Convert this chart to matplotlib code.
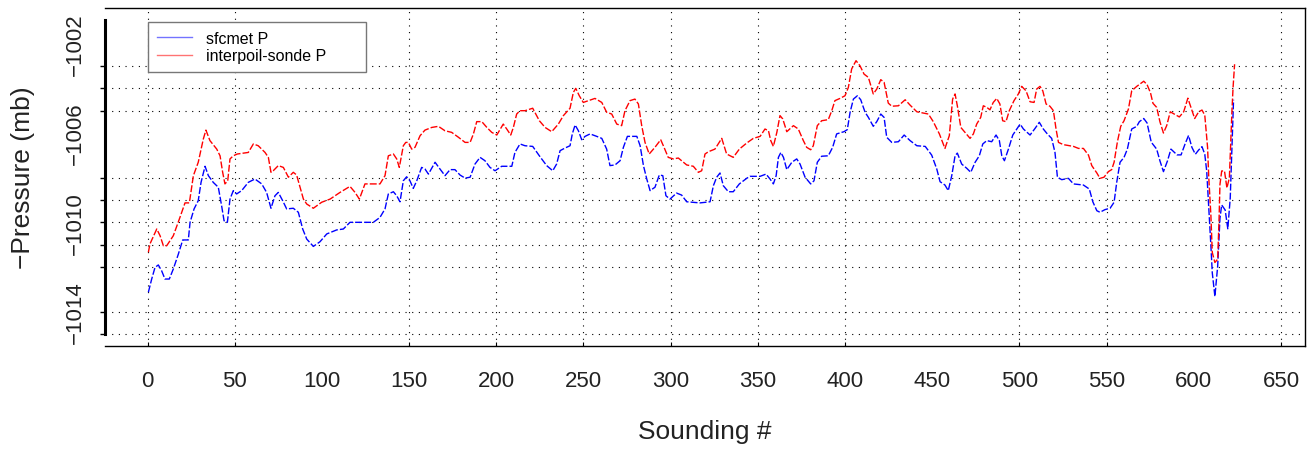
import matplotlib
matplotlib.use("Agg")
import matplotlib.pyplot as plt
from matplotlib.lines import Line2D

plt.rcParams['font.family'] = ['Liberation Sans', 'DejaVu Sans']

# sounding number / -pressure (mb)
sfc_x = [0.5, 2.4, 4.3, 6.2, 8.1, 10, 12.5, 14.8, 17.7, 20.2, 23.4, 24.4, 26.7, 29.1, 30.7, 33, 34.9, 37.7,
         40.6, 42.5, 43.9, 45.8, 47.3, 49.2, 51.1, 54, 57.8, 61.6, 65.5, 68.3, 70.8, 73.1, 75, 77.5, 79.8,
         83.6, 86.5, 89, 91.3, 95.1, 98.9, 102.8, 108.5, 112.3, 116.1, 129.5, 133.3, 136.2, 138.1, 141,
         142.9, 144.8, 146.7, 148.6, 150.5, 152.4, 154.4, 157.2, 159.1, 161.1, 164.9, 167.7, 170.6, 173.5,
         176.3, 179.2, 182.1, 185, 187.8, 190.7, 193.5, 196.4, 199.3, 203.1, 208.9, 210.7, 213.6, 216.5,
         220.9, 224.7, 228.9, 232.4, 234.6, 236.6, 239.5, 242.3, 243.6, 245.2, 247.1, 249, 250.9, 253.8,
         257.6, 260.5, 263.3, 265.2, 268.1, 271, 272.9, 275.2, 280.6, 282.5, 284.4, 286.3, 288.2, 291,
         293.5, 295.5, 297.3, 299.6, 303.4, 306.3, 309.2, 316.8, 322.6, 324.5, 326.4, 328.3, 330.2, 333.1,
         335.9, 339.4, 343.6, 345.5, 351.3, 354.7, 357, 358.9, 360.5, 361.8, 363.2, 364.7, 366.6, 369.5,
         372.3, 374.2, 377.1, 380.3, 382.2, 384.1, 386.6, 390.4, 392.9, 395.2, 399.4, 401.3, 402.9, 404.8,
         407.1, 409, 411.5, 413.4, 416.2, 418.2, 420.5, 422.4, 423.9, 426.8, 430.6, 433.9, 437.3, 441.2,
         446, 449.7, 452.6, 454.5, 457.3, 459.2, 461.2, 463.1, 464.4, 466.9, 469.8, 472.1, 474.6, 477,
         479, 481.3, 484.1, 486.6, 488.5, 489.9, 491.4, 493.7, 496.2, 498.5, 500.4, 502.3, 506.1, 509,
         511.4, 513.7, 516, 518.5, 520.4, 521.8, 524.3, 528.1, 531, 536.7, 540.1, 542.1, 544.4, 546.2,
         549.1, 552, 554.3, 555.8, 557.7, 560, 561.9, 564.4, 567.3, 568.8, 571.3, 573.2, 575.6, 578.7,
         580.6, 582.6, 584.9, 586.9, 590.4, 592.7, 595, 597, 598.9, 600.9, 602.8, 604.7, 606.3, 607.4,
         608.6, 609.8, 610.6, 612.1, 613.7, 615, 616, 618, 619.5, 620.9, 621.9, 622.8]
sfc_p = [-1013.13, -1012.54, -1012.02, -1011.91, -1012.17, -1012.54, -1012.54, -1012.09, -1011.42, -1010.79,
         -1010.79, -1010.0, -1009.40, -1009.03, -1008.21, -1007.49, -1007.91, -1008.21, -1008.43, -1009.26,
         -1009.93, -1010.0, -1008.96, -1008.58, -1008.73, -1008.58, -1008.21, -1008.06, -1008.28, -1008.66,
         -1009.37, -1008.81, -1008.66, -1009.03, -1009.40, -1009.37, -1009.55, -1010.30, -1010.75, -1011.08,
         -1010.87, -1010.52, -1010.34, -1010.30, -1010.0, -1010.0, -1009.78, -1009.40, -1008.73, -1008.63,
         -1008.81, -1009.08, -1008.14, -1007.96, -1008.14, -1008.48, -1008.14, -1007.54, -1007.61, -1007.84,
         -1007.31, -1007.61, -1007.91, -1007.64, -1007.64, -1007.88, -1008.02, -1007.98, -1007.39, -1007.09,
         -1007.24, -1007.54, -1007.69, -1007.49, -1007.49, -1006.87, -1006.49, -1006.57, -1006.60, -1007.02,
         -1007.46, -1007.69, -1007.39, -1006.79, -1006.67, -1006.57, -1006.04, -1005.64, -1005.90, -1006.30,
         -1006.15, -1006.04, -1006.15, -1006.24, -1006.72, -1007.46, -1007.43, -1007.24, -1006.64, -1006.15,
         -1006.15, -1006.57, -1007.46, -1008.06, -1008.58, -1008.43, -1007.88, -1007.91, -1008.81, -1008.96,
         -1008.69, -1008.78, -1009.08, -1009.13, -1009.08, -1008.36, -1007.98, -1007.79, -1008.36, -1008.63,
         -1008.63, -1008.28, -1008.03, -1007.94, -1007.94, -1007.84, -1008.06, -1008.28, -1007.91, -1007.09,
         -1006.87, -1007.09, -1007.64, -1007.31, -1007.16, -1007.39, -1007.98, -1008.28, -1008.14, -1007.31,
         -1007.04, -1007.02, -1006.64, -1006.04, -1005.94, -1005.85, -1005.07, -1004.48, -1004.33, -1004.51,
         -1005.07, -1005.30, -1005.70, -1005.49, -1005.15, -1005.30, -1006.19, -1006.42, -1006.39, -1006.09,
         -1006.34, -1006.57, -1006.60, -1006.99, -1007.61, -1008.18, -1008.33, -1008.58, -1007.91, -1007.02,
         -1006.90, -1007.39, -1007.58, -1007.76, -1007.31, -1007.02, -1006.49, -1006.34, -1006.39, -1006.09,
         -1006.34, -1007.02, -1007.24, -1006.72, -1006.09, -1005.82, -1005.60, -1005.82, -1006.09, -1005.79,
         -1005.52, -1005.82, -1006.04, -1006.24, -1006.87, -1007.98, -1008.09, -1008.03, -1008.28, -1008.33,
         -1008.51, -1009.08, -1009.48, -1009.55, -1009.43, -1009.37, -1009.10, -1008.21, -1007.31, -1007.09,
         -1006.72, -1005.82, -1005.70, -1005.49, -1005.35, -1005.55, -1006.41, -1006.72, -1007.25, -1007.73,
         -1007.25, -1006.72, -1006.98, -1006.98, -1006.49, -1006.11, -1006.64, -1006.95, -1006.76, -1006.61,
         -1006.95, -1007.70, -1009.37, -1011.04, -1012.26, -1013.32, -1011.96, -1009.83, -1009.22, -1009.45,
         -1010.29, -1008.92, -1006.64, -1004.51]

snd_x = [0.5, 1.4, 5.3, 7.2, 9.1, 11, 14.8, 18.6, 21.5, 24, 26.3, 29.1, 32, 33.5, 35.8, 39.7, 41.6, 43.1,
         44.4, 46, 47.3, 49.2, 51.5, 57.8, 60.7, 63.5, 67.4, 69.3, 70.8, 72.1, 75, 77.9, 80.8, 83.6, 85.5,
         87.5, 89.4, 91.3, 95.1, 99.9, 104.7, 110.4, 116.1, 119, 121.5, 124.7, 127.6, 133.3, 136.2, 138.1,
         141, 142.9, 144.4, 146.7, 148.1, 149.6, 151.5, 153.4, 156.3, 159.1, 163, 166.8, 170.6, 174.4,
         178.3, 182.1, 185, 186.9, 188.8, 191.7, 194.6, 197.4, 200.3, 204, 206, 208.3, 209.8, 211.7, 213.6,
         216.5, 220.9, 224.7, 228, 231.8, 235.6, 238.5, 242.3, 244.2, 245.6, 247.6, 249.9, 252.8, 256.6,
         260.5, 263.3, 266.2, 269.1, 271.9, 273.8, 276.7, 279.5, 281.5, 283.4, 285.3, 287.7, 291, 294.3,
         296.2, 298.6, 301.5, 304.4, 309.2, 313, 315.9, 317.8, 319.7, 321.6, 325.4, 329.3, 332.1, 335.9,
         339.4, 343.6, 347.4, 351.3, 354.1, 356.1, 357.4, 358.9, 360.9, 362.7, 364.3, 366.6, 370.4, 373.2,
         376.1, 378, 380.3, 381.8, 384.1, 386.6, 390.4, 392.4, 394.2, 397.1, 400, 401.9, 403.8, 406.3,
         408.6, 410.9, 413.4, 416.2, 418.2, 420.5, 422.4, 424.8, 426.8, 430.6, 434.5, 437.3, 441.2, 447.8,
         450.6, 454.1, 457.3, 459.8, 461.7, 463.1, 464.4, 466.4, 468.8, 471.7, 473.6, 475.5, 477.8, 479.3,
         481.3, 483.1, 485, 487, 488.8, 490.4, 492.3, 494.2, 496.9, 499.4, 501.3, 503.8, 506.1, 508.4,
         509.9, 511.8, 513.4, 515.3, 517.5, 519.5, 521, 522.4, 525.2, 531, 533.9, 536.7, 539.6, 541.5,
         544.4, 546.2, 548.5, 551, 552.9, 554.3, 556.2, 558.1, 560, 562.5, 564.4, 567.3, 571.3, 573.2,
         575.2, 576.6, 578.7, 580.6, 582.6, 584.5, 586.5, 588.8, 591.7, 594.2, 596.6, 598.5, 600.5, 602.8,
         604.7, 606.3, 607.9, 608.6, 609.8, 610.6, 612.1, 613.7, 614.5, 615, 616, 617.6, 619, 620.4, 621.9,
         622.5, 623.4]
snd_p = [-1011.34, -1010.97, -1010.30, -1010.6, -1011.05, -1011.05, -1010.6, -1009.78, -1009.13, -1009.13,
         -1007.91, -1007.31, -1006.27, -1005.87, -1006.34, -1006.72, -1007.02, -1007.76, -1008.28, -1008.14,
         -1007.16, -1007.02, -1006.94, -1006.87, -1006.49, -1006.57, -1006.87, -1007.09, -1007.76, -1007.69,
         -1007.46, -1007.54, -1007.98, -1007.76, -1007.88, -1008.43, -1008.96, -1009.18, -1009.37, -1009.10,
         -1008.96, -1008.66, -1008.39, -1008.66, -1008.96, -1008.28, -1008.28, -1008.28, -1007.91, -1007.02,
         -1006.94, -1007.16, -1007.54, -1006.57, -1006.42, -1006.42, -1006.72, -1006.64, -1006.12, -1005.87,
         -1005.75, -1005.70, -1005.90, -1005.97, -1006.19, -1006.42, -1006.42, -1006.04, -1005.49, -1005.49,
         -1005.75, -1005.97, -1006.09, -1005.60, -1005.82, -1006.09, -1005.75, -1005.15, -1005.0, -1005.0,
         -1004.89, -1005.45, -1005.75, -1005.94, -1005.60, -1005.22, -1004.89, -1004.18, -1004.0, -1004.33,
         -1004.63, -1004.55, -1004.45, -1004.63, -1005.07, -1005.15, -1005.60, -1005.67, -1005.0, -1004.55,
         -1004.48, -1004.70, -1005.67, -1006.42, -1006.94, -1006.64, -1006.30, -1006.64, -1007.09, -1007.16,
         -1007.12, -1007.43, -1007.49, -1007.76, -1007.69, -1006.94, -1006.84, -1006.72, -1006.24, -1006.94,
         -1007.09, -1006.72, -1006.45, -1006.24, -1006.15, -1005.82, -1005.90, -1006.34, -1006.60, -1005.97,
         -1005.22, -1005.37, -1005.94, -1005.67, -1005.82, -1006.34, -1006.64, -1006.75, -1006.57, -1005.67,
         -1005.45, -1005.40, -1005.0, -1004.55, -1004.45, -1004.33, -1003.96, -1003.13, -1002.76, -1002.99,
         -1003.36, -1003.51, -1004.25, -1004.03, -1003.61, -1003.73, -1004.66, -1004.80, -1004.78, -1004.51,
         -1004.75, -1005.05, -1005.15, -1005.49, -1006.04, -1006.69, -1006.12, -1004.48, -1004.25, -1004.78,
         -1005.75, -1005.97, -1006.24, -1006.04, -1005.60, -1005.30, -1004.78, -1004.85, -1004.96, -1004.63,
         -1004.45, -1004.70, -1005.45, -1005.49, -1005.0, -1004.55, -1004.25, -1003.91, -1004.11, -1004.60,
         -1004.63, -1004.03, -1003.91, -1004.11, -1004.70, -1004.80, -1005.0, -1005.82, -1006.42, -1006.52,
         -1006.60, -1006.69, -1006.69, -1006.99, -1007.46, -1007.79, -1008.03, -1007.98, -1007.73, -1007.64,
         -1007.31, -1006.39, -1005.70, -1005.45, -1004.93, -1004.11, -1003.91, -1003.68, -1003.83, -1004.21,
         -1004.67, -1004.85, -1005.50, -1006.00, -1005.66, -1005.05, -1005.15, -1005.28, -1005.05, -1004.44,
         -1004.89, -1005.35, -1005.05, -1004.97, -1005.20, -1006.64, -1008.01, -1009.68, -1011.35, -1011.80,
         -1011.65, -1009.83, -1008.31, -1007.70, -1007.70, -1008.46, -1008.01, -1004.97, -1003.99, -1002.92]

x_ticks = list(range(0, 651, 50))
x_grid = [0, 50, 150, 200, 250, 300, 350, 400, 500, 550, 650]
y_ticks = [-1014, -1010, -1006, -1002]
y_grid = [-1015, -1014, -1012, -1011, -1010, -1009, -1008, -1005, -1004, -1003]

fig = plt.figure(figsize=(13.12, 4.52), dpi=100)
ax = fig.add_axes([0.080, 0.2323, 0.9147, 0.7478])

dash = (0, (5, 1.5))
ax.plot(sfc_x, sfc_p, color='blue', lw=1.0, linestyle=dash)
ax.plot(snd_x, snd_p, color='red', lw=1.0, linestyle=dash)

ax.set_xlim(-24.4, 663.8)
ax.set_ylim(-1015.54, -1000.40)

# grid positions overlap some label positions, keep both
ax.xaxis.remove_overlapping_locs = False
ax.yaxis.remove_overlapping_locs = False
ax.set_xticks(x_ticks)
ax.set_xticks(x_grid, minor=True)
ax.set_yticks(y_ticks)
ax.set_yticks(y_grid, minor=True)
ax.set_yticklabels([f"\u2212{abs(v)}" for v in y_ticks], rotation=90, va='center')

ax.tick_params(axis='x', which='major', length=0, pad=17, labelsize=16, labelcolor='#222222')
ax.tick_params(axis='x', which='minor', direction='in', length=3, width=0.8)
ax.tick_params(axis='y', which='major', length=0, pad=14, labelsize=16, labelcolor='#222222')
ax.tick_params(axis='y', which='minor', direction='out', length=3.6, width=1.0)

ax.grid(which='minor', color='black', linestyle=(0, (1, 5)), lw=0.8)
ax.grid(which='major', visible=False)

for s in ['top', 'bottom', 'right']:
    ax.spines[s].set_linewidth(1.0)
ax.spines['left'].set_linewidth(2.2)
ax.spines['left'].set_bounds(-1015, -1000.94)

ax.set_xlabel("Sounding #", fontsize=19, color='#222222')
ax.xaxis.set_label_coords(0.5, -0.216)
ax.set_ylabel("\u2212Pressure (mb)", fontsize=19, color='#222222')
ax.yaxis.set_label_coords(-0.058, 0.5)

handles = [Line2D([], [], color='blue', lw=1.0, alpha=0.55),
           Line2D([], [], color='red', lw=1.0, alpha=0.55)]
leg = ax.legend(handles, ["sfcmet P", "interpoil-sonde P"], loc='upper left',
                bbox_to_anchor=(0.0358, 0.8166, 0.1817, 0.142), mode='expand',
                borderaxespad=0, fontsize=11.5, handlelength=2.2, handletextpad=0.9,
                labelspacing=0.15, borderpad=0.55, fancybox=False, framealpha=1)
leg.get_frame().set_edgecolor('#777777')
leg.get_frame().set_linewidth(1.0)

fig.savefig("out.png", dpi=100)
